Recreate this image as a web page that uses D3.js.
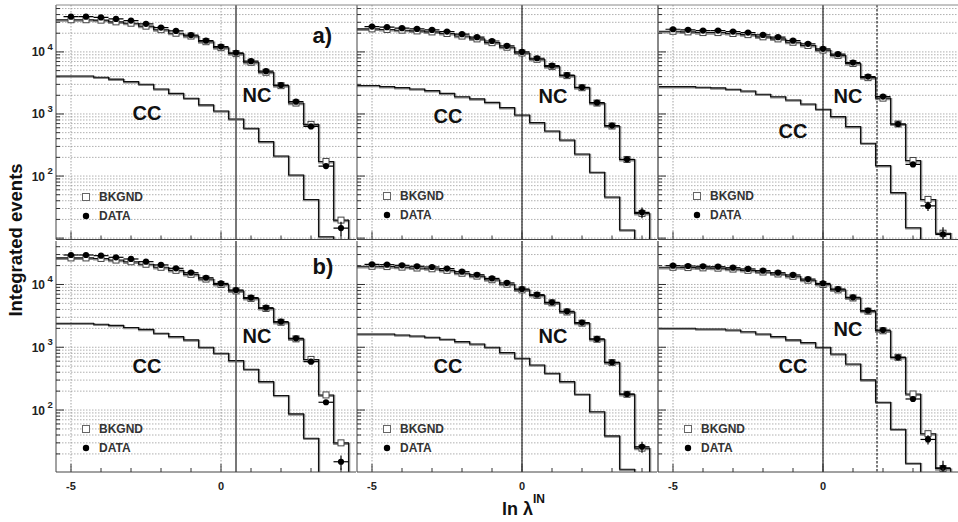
<!DOCTYPE html>
<html><head><meta charset="utf-8">
<script src="https://cdn.jsdelivr.net/npm/d3@7"></script>
<style>
body{margin:0;background:#fff}
svg{display:block;font-family:"Liberation Sans",Arial,Helvetica,sans-serif}
</style>
</head><body>
<svg id="c" width="958" height="522"></svg>
<script>
// ---------------- data ----------------
const binCenters = [-5.5,-5,-4.5,-4,-3.5,-3,-2.5,-2,-1.5,-1,-0.5,0,0.5,1,1.5,2,2.5,3,3.5,4];
const binHalfWidth = 0.25;
const xDomain = [-5.5, 4.5];
const xMajorTicks = [-5, 0];
const xMinorTicks = [-5,-4,-3,-2,-1,0,1,2,3,4];
const xTickLabels = ["-5", "0"];
const yDomainTop = [9.5, 57000];
const yDomainBottom = [10.3, 49300];
const yLabelDecades = [2, 3, 4];
const rowLabels = ["a)", "b)"];
const solidCuts = [0.5, 0, 0];
const dottedCuts = [null, null, 1.8];
const legendLabels = ["BKGND", "DATA"];

// row a
const dataA1 = [null,37000,37000,36000,34000,32000,28300,24700,21800,18700,15200,12200,9700,7100,4900,2930,1580,630,145,14.5];
const errA1  = [null,192,192,190,184,179,168,157,148,137,123,110,98,84,70,54,40,25,12,3.8];
const bkgA1  = [33000,33000,33000,32500,30500,29000,26000,22800,20000,18000,14600,11700,9400,6800,4700,2860,1500,680,172,19.5];
const ccA1   = [4100,4100,4100,3900,3650,3320,3010,2530,2150,1790,1400,1120,830,590,358,210,104,42,10.5,0];

const dataA2 = [null,25600,25000,24100,23500,22600,21300,19300,17300,15000,12500,10000,7900,6000,4250,2690,1520,650,186,26];
const errA2  = [null,160,158,155,153,150,146,139,132,122,112,100,89,77,65,52,39,25.5,13.6,5.1];
const bkgA2  = [23500,23500,23000,22400,21800,21000,19800,18000,16200,14100,11900,9600,7600,5800,4150,2650,1500,640,185,25];
const ccA2   = [2870,2870,2760,2660,2530,2380,2150,1900,1750,1540,1265,964,725,532,381,226,115,46,13.5,0];

const dataA3 = [null,23200,22700,22100,22100,21300,20500,18800,17300,15200,13500,11200,9200,6730,4000,1910,690,154,33,11.5];
const errA3  = [null,152,151,149,149,146,143,137,132,123,116,106,96,82,63,44,26,12.4,5.7,3.4];
const bkgA3  = [21500,21500,21000,20500,20500,19800,19000,17500,16200,14300,12700,10700,8800,6500,3850,1800,690,178,42,12];
const ccA3   = [2760,2760,2760,2690,2630,2500,2350,2080,1900,1680,1450,1190,906,625,337,147,54,14.7,0,0];

// row b
const dataB1 = [null,29500,29500,28800,27100,25500,23100,20500,18100,15400,12800,10400,8170,6170,4270,2560,1390,590,133,15];
const errB1  = [null,172,172,170,165,160,152,143,135,124,113,102,90,79,65,51,37,24,11.5,3.9];
const bkgB1  = [26500,26500,26500,26000,24500,23000,21000,18800,16800,14500,12200,10000,7900,6000,4150,2500,1360,640,174,30];
const ccB1   = [2410,2410,2410,2320,2230,2060,1930,1670,1480,1310,1000,802,612,446,284,170,87,35.5,0,0];

const dataB2 = [null,20900,20700,20200,19500,19000,17900,16000,14300,12500,10600,8480,6880,5200,3740,2470,1360,577,180,26];
const errB2  = [null,145,144,142,140,138,134,126,120,112,103,92,83,72,61,50,37,24,13.4,5.1];
const bkgB2  = [19500,19500,19300,18900,18300,17800,16800,15100,13600,11900,10100,8200,6700,5100,3650,2420,1340,570,178,24.7];
const ccB2   = [1630,1630,1630,1570,1510,1440,1340,1230,1130,1000,822,667,523,385,284,178,94,38.7,11.4,0];

const dataB3 = [null,19950,19700,19500,19200,18500,17700,16600,15400,14200,12200,10400,8480,6250,3830,1880,692,150,34,12];
const errB3  = [null,141,140,140,139,136,133,129,124,119,110,102,92,79,62,43,26,12.2,5.8,3.5];
const bkgB3  = [18800,18800,18600,18400,18200,17600,16800,15800,14700,13500,11700,10000,8200,6100,3750,1830,692,180,42,11.7];
const ccB3   = [2005,2005,2005,1955,1955,1880,1770,1630,1480,1310,1185,1000,782,542,302,133,49.5,14.2,0,0];

const panelsData = [
  [{data:dataA1,err:errA1,bkg:bkgA1,cc:ccA1},{data:dataA2,err:errA2,bkg:bkgA2,cc:ccA2},{data:dataA3,err:errA3,bkg:bkgA3,cc:ccA3}],
  [{data:dataB1,err:errB1,bkg:bkgB1,cc:ccB1},{data:dataB2,err:errB2,bkg:bkgB2,cc:ccB2},{data:dataB3,err:errB3,bkg:bkgB3,cc:ccB3}]
];

// ---------------- layout ----------------
const svg = d3.select("#c");
const W = 958, H = 522;
const colLefts = [56, 357, 658];
const colWidth = 300;
const rows = [{top:5, bottom:239.5, dom:yDomainTop}, {top:241, bottom:472, dom:yDomainBottom}];
const FONT = '"Liberation Sans",Arial,Helvetica,sans-serif';

// annotation positions (pixels)
const ccPos = [[[147,113],[448,116],[793,131]],[[147,366],[448,366],[793,366]]];
const ncPos = [[[257,95],[553,96],[848,96]],[[257,336],[553,336],[848,329]]];
const legPos = [[[86,197],[387,196],[697,196]],[[86,429],[387,429],[688,429]]];

const defs = svg.append("defs");

rows.forEach((row, ri) => {
  const y = d3.scaleLog().domain(row.dom).range([row.bottom, row.top]);
  const yTicks = y.ticks().filter(t => t >= row.dom[0] && t <= row.dom[1]);
  colLefts.forEach((left, ci) => {
    const pd = panelsData[ri][ci];
    const x = d3.scaleLinear().domain(xDomain).range([left, left + colWidth]);
    const clipId = `clip${ri}${ci}`;
    defs.append("clipPath").attr("id", clipId).append("rect")
      .attr("x", left).attr("y", row.top).attr("width", colWidth).attr("height", row.bottom - row.top);
    const g = svg.append("g");
    const gc = g.append("g").attr("clip-path", `url(#${clipId})`);

    // grid
    gc.selectAll("line.hg").data(yTicks).enter().append("line")
      .attr("x1", left).attr("x2", left + colWidth)
      .attr("y1", d => y(d)).attr("y2", d => y(d))
      .attr("stroke", "#9c9c9c").attr("stroke-width", 0.8).attr("stroke-dasharray", "1.5,1.5");
    gc.selectAll("line.vg").data(xMajorTicks).enter().append("line")
      .attr("x1", d => x(d)).attr("x2", d => x(d))
      .attr("y1", row.top).attr("y2", row.bottom)
      .attr("stroke", "#8c8c8c").attr("stroke-width", 0.8).attr("stroke-dasharray", "1.5,1.5");

    const yv = v => (v && v > 0) ? y(v) : row.bottom + 3;
    const stepPts = vals => {
      const pts = [];
      vals.forEach((v, i) => {
        pts.push([binCenters[i] - binHalfWidth, v]);
        pts.push([binCenters[i] + binHalfWidth, v]);
      });
      pts.push([binCenters[binCenters.length - 1] + binHalfWidth, 0]);
      return pts;
    };
    const line = d3.line().x(d => x(d[0])).y(d => yv(d[1]));

    // CC histogram
    gc.append("path").attr("d", line(stepPts(pd.cc)))
      .attr("fill", "none").attr("stroke", "#888").attr("stroke-width", 2).attr("transform", "translate(0.7,0.8)");
    gc.append("path").attr("d", line(stepPts(pd.cc)))
      .attr("fill", "none").attr("stroke", "#111").attr("stroke-width", 1.1);

    // NC / BKGND histogram
    gc.append("path").attr("d", line(stepPts(pd.bkg)))
      .attr("fill", "none").attr("stroke", "#8a8a8a").attr("stroke-width", 2.2).attr("transform", "translate(0.7,1)");
    gc.append("path").attr("d", line(stepPts(pd.bkg)))
      .attr("fill", "none").attr("stroke", "#111").attr("stroke-width", 1.1);

    // cut lines
    if (solidCuts[ci] !== null) {
      gc.append("line").attr("x1", x(solidCuts[ci])).attr("x2", x(solidCuts[ci]))
        .attr("y1", row.top).attr("y2", row.bottom)
        .attr("stroke", ci === 0 ? "#555" : "#111").attr("stroke-width", ci === 0 ? 1.6 : 1.1);
    }
    if (dottedCuts[ci] !== null) {
      gc.append("line").attr("x1", x(dottedCuts[ci])).attr("x2", x(dottedCuts[ci]))
        .attr("y1", row.top).attr("y2", row.bottom)
        .attr("stroke", "#222").attr("stroke-width", 1.2).attr("stroke-dasharray", "2.5,1.5");
    }

    // BKGND squares
    const bk = binCenters.map((c, i) => ({c, v: pd.bkg[i]})).filter(d => d.c > xDomain[0]);
    gc.selectAll("rect.bk").data(bk).enter().append("rect")
      .attr("x", d => x(d.c) - 3).attr("y", d => y(d.v) - 3)
      .attr("width", 6).attr("height", 6)
      .attr("fill", "#fff").attr("stroke", "#444").attr("stroke-width", 1);

    // DATA
    const dt = binCenters.map((c, i) => ({c, v: pd.data[i], e: pd.err[i]})).filter(d => d.v !== null);
    gc.selectAll("line.eh").data(dt).enter().append("line")
      .attr("x1", d => x(d.c - binHalfWidth)).attr("x2", d => x(d.c + binHalfWidth))
      .attr("y1", d => y(d.v)).attr("y2", d => y(d.v))
      .attr("stroke", "#000").attr("stroke-width", 1.2);
    gc.selectAll("line.ev").data(dt).enter().append("line")
      .attr("x1", d => x(d.c)).attr("x2", d => x(d.c))
      .attr("y1", d => yv(d.v - d.e)).attr("y2", d => y(d.v + d.e))
      .attr("stroke", "#000").attr("stroke-width", 1.2);
    gc.selectAll("circle.dp").data(dt).enter().append("circle")
      .attr("cx", d => x(d.c)).attr("cy", d => y(d.v)).attr("r", 3.1)
      .attr("fill", "#000");

    // axes: left line and bottom line with ticks
    g.append("line").attr("x1", left).attr("x2", left).attr("y1", row.top).attr("y2", row.bottom)
      .attr("stroke", ci === 2 ? "#888" : "#444").attr("stroke-width", ci === 2 ? 2 : 1);
    g.append("line").attr("x1", left).attr("x2", left + colWidth).attr("y1", row.bottom).attr("y2", row.bottom)
      .attr("stroke", "#444").attr("stroke-width", 1);
    g.selectAll("line.xt").data(xMinorTicks).enter().append("line")
      .attr("x1", d => x(d)).attr("x2", d => x(d))
      .attr("y1", row.bottom).attr("y2", d => row.bottom - (xMajorTicks.includes(d) ? 8 : 4))
      .attr("stroke", "#333").attr("stroke-width", 1);
    g.selectAll("line.yt").data(yTicks).enter().append("line")
      .attr("x1", left).attr("x2", d => left + (Math.abs(Math.log10(d) - Math.round(Math.log10(d))) < 1e-9 ? 8 : 4))
      .attr("y1", d => y(d)).attr("y2", d => y(d))
      .attr("stroke", "#333").attr("stroke-width", 1);

    // y tick labels (leftmost column)
    if (ci === 0) {
      yLabelDecades.forEach(p => {
        const yy = y(Math.pow(10, p));
        g.append("text").attr("x", 45).attr("y", yy + 4.5).attr("text-anchor", "end")
          .attr("font-size", 12).attr("font-weight", "bold").attr("fill", "#222").text("10");
        g.append("text").attr("x", 47.5).attr("y", yy - 2).attr("text-anchor", "start")
          .attr("font-size", 9.5).attr("font-weight", "bold").attr("fill", "#222").text(p);
      });
    }
    // x tick labels (bottom row)
    if (ri === 1) {
      xMajorTicks.forEach((t, k) => {
        g.append("text").attr("x", x(t)).attr("y", 490).attr("text-anchor", "middle")
          .attr("font-size", 11).attr("font-weight", "bold").attr("fill", "#222").text(xTickLabels[k]);
      });
    }

    // CC / NC labels
    g.append("text").attr("x", ccPos[ri][ci][0]).attr("y", ccPos[ri][ci][1] + 7)
      .attr("text-anchor", "middle").attr("font-size", 20).attr("font-weight", "bold").attr("fill", "#111").text("CC");
    g.append("text").attr("x", ncPos[ri][ci][0]).attr("y", ncPos[ri][ci][1] + 7)
      .attr("text-anchor", "middle").attr("font-size", 20).attr("font-weight", "bold").attr("fill", "#111").text("NC");

    // legend
    const [lx, ly] = legPos[ri][ci];
    g.append("rect").attr("x", lx - 3.5).attr("y", ly - 3.5).attr("width", 7).attr("height", 7)
      .attr("fill", "#fff").attr("stroke", "#666").attr("stroke-width", 1);
    g.append("text").attr("x", lx + 13).attr("y", ly + 4.3).attr("font-size", 12).attr("font-weight", "bold")
      .attr("fill", "#333").text(legendLabels[0]);
    g.append("circle").attr("cx", lx).attr("cy", ly + 19).attr("r", 3.2).attr("fill", "#000");
    g.append("text").attr("x", lx + 13).attr("y", ly + 23.3).attr("font-size", 12).attr("font-weight", "bold")
      .attr("fill", "#333").text(legendLabels[1]);
  });

  // row label
  svg.append("text").attr("x", 312.5).attr("y", ri === 0 ? 43 : 274)
    .attr("font-size", 22).attr("font-weight", "bold").attr("fill", "#111").text(rowLabels[ri]);
});

// top frame
svg.append("line").attr("x1", colLefts[0]).attr("x2", W).attr("y1", rows[0].top).attr("y2", rows[0].top)
  .attr("stroke", "#888").attr("stroke-width", 1);

// axis titles
svg.append("text").attr("transform", "translate(21.5,240) rotate(-90)")
  .attr("text-anchor", "middle").attr("font-size", 18.5).attr("font-weight", "bold").attr("fill", "#111")
  .text("Integrated events");
const xt = svg.append("text").attr("x", 502).attr("y", 515)
  .attr("font-size", 18).attr("font-weight", "bold").attr("fill", "#111");
xt.append("tspan").text("ln λ");
xt.append("tspan").attr("dy", -12).attr("font-size", 12).text("IN");
</script>
</body></html>
